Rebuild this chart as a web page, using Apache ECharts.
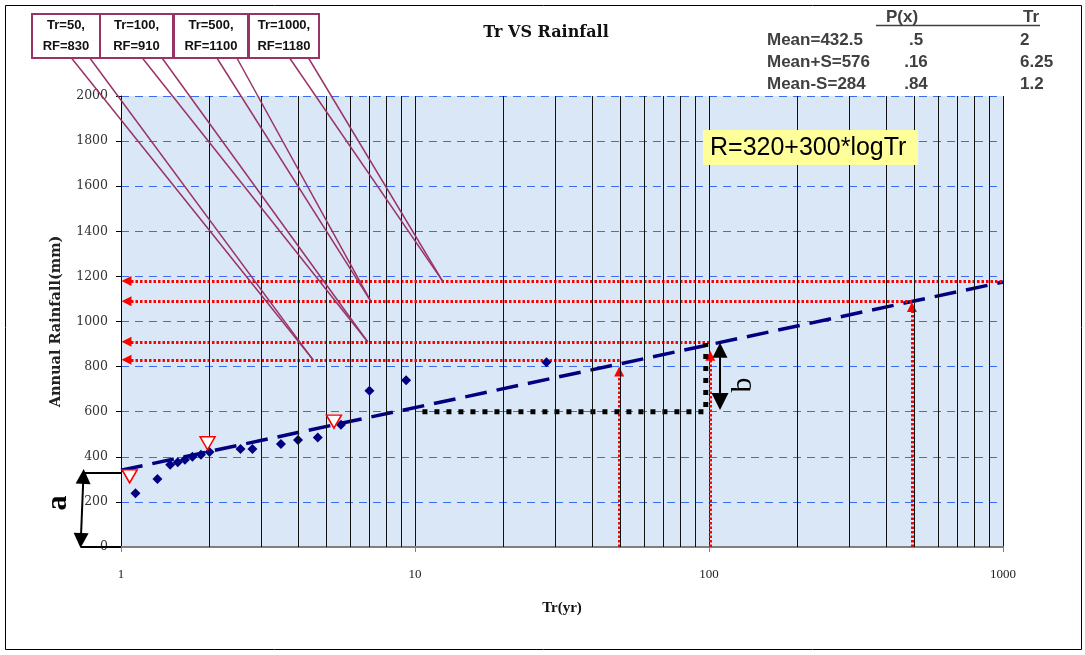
<!DOCTYPE html>
<html lang="en">
<head>
<meta charset="UTF-8">
<title>Tr VS Rainfall</title>
<script src="https://cdn.jsdelivr.net/npm/echarts@6/dist/echarts.min.js"></script>
<style>
    html, body { margin: 0; padding: 0; background: #fff; }
    #chart { width: 1085px; height: 655px; }
</style>
</head>
<body>
<div id="chart"></div>
<script>
var obsTr = [1.12, 1.33, 1.47, 1.56, 1.65, 1.75, 1.87, 2.0, 2.55, 2.8, 3.5, 4.0, 4.67, 5.6, 7.0, 9.33, 28];
var obsRain = [238, 301, 365, 376, 387, 400, 409, 421, 435, 435, 457, 474, 486, 542, 693, 739, 819];

// mean-S, mean, mean+S markers
var statTr = [1.07, 1.97, 5.3];
var statRain = [313, 460, 556];

// fitted line as drawn
var fitTr = [1, 1000];
var fitRain = [340, 1175];

// design return periods and rainfall
var designTr = [50, 100, 490, 1000];
var designRain = [830, 910, 1090, 1180];
var arrowTr = [49.5, 101, 490];
var arrowTop = [778, 848, 1064];

// callouts
var calloutText = ['Tr=50,\nRF=830', 'Tr=100,\nRF=910', 'Tr=500,\nRF=1100', 'Tr=1000,\nRF=1180'];
var calloutTr = [4.5, 6.9, 7.07, 12.4];

// "a" and "b" construction
var bTr = 109, bRain = [873, 645];
var aTr = [0.745, 0.73], aRain = [313, 29];
var aLineRain = [330, 0];
var squareLine = [[10.6, 600], [97.5, 600], [97.5, 905]];

// statistics table
var statNames = ['Mean=432.5', 'Mean+S=576', 'Mean-S=284'];
var statP = ['.5', '.16', '.84'];
var statTrText = ['2', '6.25', '1.2'];

var minorTr = [2, 3, 4, 5, 6, 7, 8, 9, 20, 30, 40, 50, 60, 70, 80, 90, 200, 300, 400, 500, 600, 700, 800, 900];

var chart = echarts.init(document.getElementById('chart'));

var serif = 'DejaVu Serif';

var redH = designTr.map(function (t, i) {
    return { coords: [[1.044, designRain[i]], [t, designRain[i]]], symbol: ['triangle', 'none'] };
});
var redV = arrowTop.map(function (top, i) {
    return { coords: [[arrowTr[i], 0], [arrowTr[i], top]] };
});

var option = {
    animation: false,
    grid: {
        left: 121, right: 82, top: 96, bottom: 108,
        show: true, backgroundColor: '#dae7f6', borderWidth: 0
    },
    xAxis: {
        type: 'log', logBase: 10, min: 1, max: 1000,
        name: 'Tr(yr)', nameLocation: 'middle', nameGap: 54,
        nameTextStyle: { fontFamily: 'Liberation Serif', fontWeight: 'bold', fontSize: 15, color: '#111' },
        axisLine: { lineStyle: { color: '#808080', width: 2 } },
        axisTick: { show: true, length: 5, lineStyle: { color: '#808080' } },
        axisLabel: { fontFamily: 'Liberation Serif', fontSize: 13, color: '#222', margin: 21, formatter: function (v) { return String(v); } },
        splitLine: { show: true, lineStyle: { color: '#111', width: 1, type: 'solid' } }
    },
    yAxis: {
        type: 'value', min: 0, max: 2000, interval: 200,
        name: 'Annual Rainfall(mm)', nameLocation: 'middle', nameGap: 57,
        nameTextStyle: { fontFamily: serif, fontWeight: 'bold', fontSize: 14.5, color: '#222' },
        axisLine: { show: true, lineStyle: { color: '#000', width: 1 } },
        axisTick: { show: true, length: 5, lineStyle: { color: '#000' } },
        axisLabel: { fontFamily: serif, fontSize: 12.5, color: '#333', margin: 13, formatter: function (v) { return String(v); } },
        splitLine: { show: true, lineStyle: { color: '#3a6cf4', width: 1, type: [8, 6] } }
    },
    series: [
        {
            // minor log grid lines
            type: 'line', data: [], z: 1, silent: true,
            markLine: {
                silent: true, symbol: 'none', label: { show: false },
                lineStyle: { color: '#111', width: 1, type: 'solid' },
                data: minorTr.map(function (t) { return { xAxis: t }; })
            }
        },
        {
            type: 'line', z: 3,
            data: fitTr.map(function (t, i) { return [t, fitRain[i]]; }),
            showSymbol: false,
            lineStyle: { color: '#000080', width: 3.5, type: [22, 10] }
        },
        {
            type: 'scatter', z: 4,
            data: obsTr.map(function (t, i) { return [t, obsRain[i]]; }),
            symbol: 'diamond', symbolSize: 10,
            itemStyle: { color: '#000080', opacity: 1 }
        },
        {
            type: 'scatter', z: 5,
            data: statTr.map(function (t, i) { return [t, statRain[i]]; }),
            symbol: 'triangle', symbolRotate: 180, symbolSize: [15, 13],
            itemStyle: { color: '#fff', borderColor: '#ff0000', borderWidth: 1.5, opacity: 1 }
        },
        {
            type: 'lines', coordinateSystem: 'cartesian2d', z: 4,
            symbolSize: [10, 12],
            lineStyle: { color: '#ff0000', width: 3, type: [2.5, 2], opacity: 1 },
            data: redH
        },
        {
            type: 'lines', coordinateSystem: 'cartesian2d', z: 4,
            symbol: ['none', 'triangle'], symbolSize: [11, 10],
            lineStyle: { color: '#ff0000', width: 3, type: [2.5, 2], opacity: 1 },
            data: redV
        },
        {
            type: 'lines', coordinateSystem: 'cartesian2d', polyline: true, z: 4,
            symbol: 'none',
            lineStyle: { color: '#000', width: 5, type: [5, 7], cap: 'butt', opacity: 1 },
            data: [{ coords: squareLine }]
        },
        {
            type: 'lines', coordinateSystem: 'cartesian2d', z: 6, clip: false,
            symbol: ['triangle', 'triangle'], symbolSize: [15, 17],
            lineStyle: { color: '#000', width: 2, type: 'solid', opacity: 1 },
            data: [
                { coords: [[bTr, bRain[0]], [bTr, bRain[1]]] },
                { coords: [[aTr[0], aRain[0]], [aTr[1], aRain[1]]], symbolSize: [15, 15] }
            ]
        },
        {
            type: 'lines', coordinateSystem: 'cartesian2d', z: 6, clip: false,
            symbol: 'none',
            lineStyle: { color: '#000', width: 2, type: 'solid', opacity: 1 },
            data: [
                { coords: [[0.745, aLineRain[0]], [1, aLineRain[0]]] },
                { coords: [[0.73, aLineRain[1]], [1, aLineRain[1]]] }
            ]
        }
    ]
};

chart.setOption(option);

// boxes and text outside the plot
var boxes = [
    { x: 32, w: 68 }, { x: 100, w: 73 }, { x: 174, w: 74 }, { x: 249, w: 70 }
];
var graphics = [
    {
        type: 'rect', shape: { x: 5.5, y: 5.5, width: 1076, height: 644 },
        style: { fill: null, stroke: '#000', lineWidth: 1 }, z: 0
    },
    {
        type: 'text', x: 546, y: 33,
        style: { text: 'Tr VS Rainfall', font: 'bold 16px "DejaVu Serif"', fill: '#111', align: 'center', verticalAlign: 'middle' }
    },
    {
        type: 'text', x: 902, y: 17,
        style: { text: 'P(x)', font: 'bold 17px "Liberation Sans"', fill: '#404040', align: 'center', verticalAlign: 'middle' }
    },
    {
        type: 'text', x: 1031, y: 17,
        style: { text: 'Tr', font: 'bold 17px "Liberation Sans"', fill: '#404040', align: 'center', verticalAlign: 'middle' }
    },
    {
        type: 'line', shape: { x1: 876, y1: 25.5, x2: 1040, y2: 25.5 },
        style: { stroke: '#404040', lineWidth: 1.5 }
    },
    {
        type: 'rect', shape: { x: 703, y: 130, width: 215, height: 35 },
        style: { fill: '#ffff99' }, z: 50
    },
    {
        type: 'text', x: 710, y: 148, z: 51,
        style: { text: 'R=320+300*logTr', font: '25px "Liberation Sans"', fill: '#000', verticalAlign: 'middle' }
    },
    {
        type: 'text', x: 58, y: 503, rotation: Math.PI / 2, z: 60,
        style: { text: 'a', font: 'bold 30px "Liberation Serif"', fill: '#000', align: 'center', verticalAlign: 'middle' }
    },
    {
        type: 'text', x: 743, y: 385, rotation: Math.PI / 2, z: 60,
        style: { text: 'b', font: '30px "Liberation Serif"', fill: '#000', align: 'center', verticalAlign: 'middle' }
    }
];
var rowY = [40, 62, 84];
statNames.forEach(function (n, i) {
    var f = 'bold 17px "Liberation Sans"';
    graphics.push({ type: 'text', x: 767, y: rowY[i], style: { text: n, font: f, fill: '#404040', verticalAlign: 'middle' } });
    graphics.push({ type: 'text', x: 916, y: rowY[i], style: { text: statP[i], font: f, fill: '#404040', align: 'center', verticalAlign: 'middle' } });
    graphics.push({ type: 'text', x: 1020, y: rowY[i], style: { text: statTrText[i], font: f, fill: '#404040', verticalAlign: 'middle' } });
});
boxes.forEach(function (b, i) {
    var end = chart.convertToPixel({ xAxisIndex: 0, yAxisIndex: 0 }, [calloutTr[i], designRain[i]]);
    var ax = [b.x + b.w * 0.58, b.x + b.w * 0.85];
    ax.forEach(function (sx) {
        graphics.push({
            type: 'line', z: 70,
            shape: { x1: sx, y1: 58, x2: end[0], y2: end[1] },
            style: { stroke: '#993366', lineWidth: 1.5 }
        });
    });
    graphics.push({
        type: 'rect', z: 71, shape: { x: b.x, y: 14, width: b.w, height: 44 },
        style: { fill: '#fff', stroke: '#993366', lineWidth: 2 }
    });
    graphics.push({
        type: 'text', z: 72, x: b.x + b.w / 2, y: 36,
        style: { text: calloutText[i], font: 'bold 13px "Liberation Sans"', lineHeight: 21, fill: '#111', align: 'center', verticalAlign: 'middle' }
    });
});

chart.setOption({ graphic: graphics });
</script>
</body>
</html>
